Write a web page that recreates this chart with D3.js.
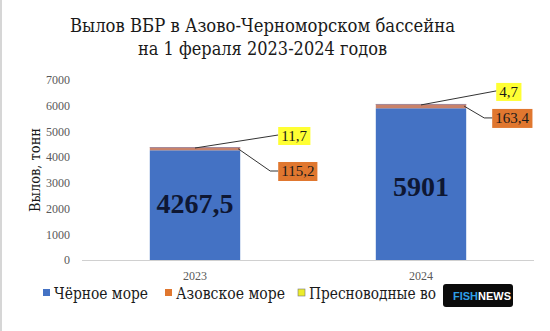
<!DOCTYPE html>
<html>
<head>
<meta charset="utf-8">
<script src="https://cdn.jsdelivr.net/npm/d3@7"></script>
<style>
  body { margin: 0; background: #fff; }
</style>
</head>
<body>
<svg id="svg" width="550" height="331"></svg>
<script>
  // data
  var years = ["2023", "2024"];
  var blackSea = [4267.5, 5901];
  var azovSea = [115.2, 163.4];
  var freshWater = [11.7, 4.7];
  var blackLabels = ["4267,5", "5901"];
  var azovLabels = ["115,2", "163,4"];
  var freshLabels = ["11,7", "4,7"];
  var yTicks = [0, 1000, 2000, 3000, 4000, 5000, 6000, 7000];
  var seriesNames = ["Чёрное море", "Азовское море", "Пресноводные во"];

  // digits look right in Liberation Serif, cyrillic needs DejaVu Serif
  var serif = "Liberation Serif, Times New Roman, serif";
  var cyr = "DejaVu Serif";
  var colors = ["#4472c4", "#e0772f", "#ecec2a"];
  var svg = d3.select("#svg");

  // frame edge
  svg.append("rect").attr("x", 1).attr("y", -2).attr("width", 560).attr("height", 340)
    .attr("fill", "none").attr("stroke", "#d6d6d6").attr("stroke-width", 2);

  // title
  var title = svg.append("text").attr("font-size", 19)
    .attr("font-family", cyr).attr("fill", "#1a1a1a");
  title.append("tspan").attr("x", 70).attr("y", 32).attr("textLength", 385).attr("lengthAdjust", "spacingAndGlyphs")
    .text("Вылов ВБР в Азово-Черноморском  бассейна");
  title.append("tspan").attr("x", 138).attr("y", 55).attr("textLength", 249).attr("lengthAdjust", "spacingAndGlyphs")
    .text("на 1 фераля  2023-2024  годов");

  var x = d3.scaleBand().domain(years).range([82, 534]).paddingInner(0.6).paddingOuter(0.3);
  var y = d3.scaleLinear().domain([0, 7000]).range([260, 80]);

  // y axis labels
  var yAxis = svg.append("g").attr("transform", "translate(70,0)")
    .call(d3.axisLeft(y).tickValues(yTicks).tickSize(0).tickPadding(0).tickFormat(d3.format("d")));
  yAxis.attr("font-family", serif);
  yAxis.select(".domain").remove();
  yAxis.selectAll("text").attr("font-size", 12).attr("fill", "#595959");

  // x axis
  var xAxis = svg.append("g").attr("transform", "translate(0,260)")
    .call(d3.axisBottom(x).tickSize(0).tickPadding(11));
  xAxis.attr("font-family", serif);
  xAxis.select(".domain").attr("stroke", "#d0d0d0").attr("d", "M82,0.5H534");
  xAxis.selectAll("text").attr("font-size", 12).attr("fill", "#595959");

  // axis title
  svg.append("text").attr("transform", "translate(40,212) rotate(-90)").attr("font-family", cyr)
    .attr("font-size", 15).attr("fill", "#1a1a1a")
    .attr("textLength", 84).attr("lengthAdjust", "spacingAndGlyphs").text("Вылов, тонн");

  // stacked bars
  var stackData = years.map(function(yr, i) {
    return { year: yr, black: blackSea[i], azov: azovSea[i], fresh: freshWater[i] };
  });
  var stack = d3.stack().keys(["black", "azov", "fresh"])(stackData);
  var barColors = ["#4472c4", "#c9826a", "#a58a9a"];

  svg.append("g").selectAll("g").data(stack).enter().append("g")
    .attr("fill", function(d, i) { return barColors[i]; })
    .selectAll("rect").data(function(d) { return d; }).enter().append("rect")
      .attr("x", function(d) { return x(d.data.year); })
      .attr("width", x.bandwidth())
      .attr("y", function(d) { return y(d[1]); })
      .attr("height", function(d) { return Math.max(y(d[0]) - y(d[1]), 1); });

  // big labels inside blue bars
  var bigY = [213, 196];
  svg.append("g").selectAll("text").data(years).enter().append("text")
    .attr("x", function(d) { return x(d) + x.bandwidth() / 2; })
    .attr("y", function(d, i) { return bigY[i]; })
    .attr("font-family", serif)
    .attr("text-anchor", "middle").attr("font-size", 28).attr("font-weight", "bold")
    .attr("fill", "#0e1733")
    .text(function(d, i) { return blackLabels[i]; });

  // callout labels with leader lines
  var calloutG = svg.append("g").attr("font-family", serif);
  years.forEach(function(yr, i) {
    var left = x(yr), right = x(yr) + x.bandwidth(), mid = left + x.bandwidth() / 2;
    var top = y(blackSea[i] + azovSea[i] + freshWater[i]);
    var azovMid = y(blackSea[i] + azovSea[i] / 2);
    var fx = right + 38 + (i ? -8 : 0), fy = top - (i ? 19 : 18);
    var ax = right + 38 - (i ? 12 : 0), ay = top + (i ? 5 : 15);

    // freshwater leader
    calloutG.append("path")
      .attr("d", "M" + mid + "," + (top + 1) + "L" + fx + "," + (fy + 6))
      .attr("stroke", "#333").attr("fill", "none").attr("stroke-width", 1);
    // azov leader
    calloutG.append("path")
      .attr("d", "M" + (right - 2) + "," + azovMid + "L" + (ax - 8) + "," + (ay + 9) + "H" + ax)
      .attr("stroke", "#333").attr("fill", "none").attr("stroke-width", 1);

    var ft = calloutG.append("text").attr("font-size", 15).attr("fill", "#1a1a1a")
      .attr("x", fx + 3).attr("y", fy + 12).text(freshLabels[i]);
    var fb = ft.node().getBBox();
    calloutG.insert("rect", "text").attr("x", fx).attr("y", fy - 2)
      .attr("width", fb.width + 6).attr("height", 18).attr("fill", "#ffff33");

    var at = calloutG.append("text").attr("font-size", 15).attr("fill", "#1a1a1a")
      .attr("x", ax + 3).attr("y", ay + 14).text(azovLabels[i]);
    var ab = at.node().getBBox();
    calloutG.insert("rect", "text").attr("x", ax).attr("y", ay)
      .attr("width", ab.width + 6).attr("height", 19).attr("fill", "#e0772f");
  });

  // legend
  var legX = [43, 165, 298];
  var legW = [94, 109, 127];
  var leg = svg.append("g").attr("font-family", cyr);
  seriesNames.forEach(function(name, i) {
    leg.append("rect").attr("x", legX[i]).attr("y", 289).attr("width", 7).attr("height", 7)
      .attr("fill", colors[i]).attr("stroke", i == 2 ? "#777" : "none").attr("stroke-width", 0.6);
    leg.append("text").attr("x", legX[i] + 11).attr("y", 299).attr("font-size", 16)
      .attr("textLength", legW[i]).attr("lengthAdjust", "spacingAndGlyphs")
      .attr("fill", "#1a1a1a").text(name);
  });

  // logo
  var logo = svg.append("g").attr("transform", "translate(443,284)")
    .attr("font-family", "Liberation Sans, Arial, sans-serif").attr("font-weight", "bold").attr("font-size", 11);
  logo.append("rect").attr("width", 70).attr("height", 23).attr("rx", 3).attr("fill", "#0b0b0b");
  logo.append("text").attr("x", 35).attr("y", 16).attr("text-anchor", "end").attr("fill", "#2fa0e8").text("FISH");
  logo.append("text").attr("x", 35).attr("y", 16).attr("text-anchor", "start").attr("fill", "#ffffff").text("NEWS");
</script>
</body>
</html>
